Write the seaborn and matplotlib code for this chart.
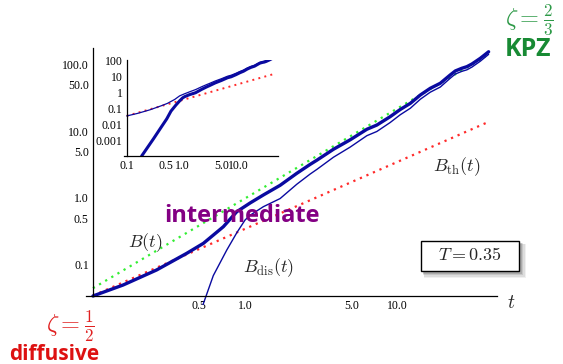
import numpy as np
import pandas as pd
import matplotlib
matplotlib.use('Agg')
import matplotlib.pyplot as plt
import seaborn as sns
from matplotlib.patches import Rectangle
from matplotlib.ticker import LogLocator, NullFormatter

# ---------------- data ----------------
t_B = [0.1, 0.158, 0.262, 0.413, 0.532, 0.72, 0.882, 1.079, 1.319, 1.699, 2.188, 2.677,
       2.964, 3.81, 4.91, 6.32, 7.35, 8.99, 10.47, 12.2, 14.2, 16.5, 19.2, 22.3, 24.1,
       26.6, 28.7, 31.0, 35.2, 39.9]
B_vals = [0.0336, 0.0492, 0.0827, 0.147, 0.208, 0.370, 0.622, 0.841, 1.11, 1.55, 2.35,
          3.2, 3.7, 5.4, 7.5, 10.8, 12.5, 16.7, 21.4, 26.5, 35.4, 44.6, 53.1, 70.7,
          81.3, 89.2, 94.3, 103.5, 126.0, 158.0]

t_dis = [0.185, 0.3, 0.42, 0.519, 0.618, 0.758, 0.882, 1.0, 1.079, 1.319, 1.699, 2.188,
         2.677, 2.964, 3.81, 4.91, 6.32, 7.35, 8.99, 10.47, 12.2, 14.2, 16.5, 19.2, 22.3,
         24.1, 26.6, 28.7, 31.0, 35.2, 39.9]
Bdis_vals = [0.0001, 0.0012, 0.0072, 0.022, 0.068, 0.165, 0.30, 0.467, 0.55, 0.74, 0.98,
             1.61, 2.29, 2.69, 4.1, 5.83, 8.65, 10.0, 13.64, 17.84, 22.35, 30.57,
             38.99, 46.57, 63.1, 73.1, 80.2, 84.5, 93.0, 114.0, 144.4]

t_th = [0.1, 40.0]
Bth_vals = [0.034, 14.0]

t_kpz = [0.1, 38.0]
Bkpz_vals = [0.044, 134.0]

main_xticks = [0.5, 1.0, 5.0, 10.0]
main_xlabels = ['0.5', '1.0', '5.0', '10.0']
main_yticks = [0.1, 0.5, 1.0, 5.0, 10.0, 50.0, 100.0]
main_ylabels = ['0.1', '0.5', '1.0', '5.0', '10.0', '50.0', '100.0']
ins_xticks = [0.1, 0.5, 1.0, 5.0, 10.0]
ins_xlabels = ['0.1', '0.5', '1.0', '5.0', '10.0']
ins_yticks = [0.001, 0.01, 0.1, 1.0, 10.0, 100.0]
ins_ylabels = ['0.001', '0.01', '0.1', '1', '10', '100']

# ---------------- style ----------------
sns.set_style('white')
plt.rcParams['font.family'] = ['Liberation Serif', 'DejaVu Serif']
plt.rcParams['mathtext.fontset'] = 'cm'

W, H = 563, 364
fig = plt.figure(figsize=(W / 100, H / 100), dpi=100)

def fx(px):
    return px / W

def fy(py):
    return 1 - py / H

BLUE = '#0a0aa0'
RED = '#ff2a2a'
GREEN = '#33ee33'
DOT = (0, (1, 2.2))

# ---------------- main axes ----------------
ax = fig.add_axes([fx(86), fy(305), (497 - 86) / W, (305 - 48) / H])
ax.set_xscale('log')
ax.set_yscale('log')
ax.set_xlim(0.09, 45.3)
ax.set_ylim(0.0246, 180)

sns.lineplot(x=t_kpz, y=Bkpz_vals, ax=ax, color=GREEN, lw=1.6, linestyle=DOT,
             sort=False, estimator=None)
sns.lineplot(x=t_th, y=Bth_vals, ax=ax, color=RED, lw=1.6, linestyle=DOT,
             sort=False, estimator=None)
sns.lineplot(x=t_dis, y=Bdis_vals, ax=ax, color=BLUE, lw=1.0,
             sort=False, estimator=None)
sns.lineplot(x=t_B, y=B_vals, ax=ax, color=BLUE, lw=2.4,
             sort=False, estimator=None)

for s in ['top', 'right']:
    ax.spines[s].set_visible(False)
ax.spines['bottom'].set_position(('data', 0.034))
ax.spines['left'].set_position(('data', 0.1))
ax.spines['left'].set_bounds(0.034, 180)
for s in ['bottom', 'left']:
    ax.spines[s].set_color('black')
    ax.spines[s].set_linewidth(0.9)

ax.set_xticks(main_xticks, main_xlabels)
ax.set_yticks(main_yticks, main_ylabels)
ax.xaxis.set_minor_locator(LogLocator(base=10, subs=np.arange(2, 10) * 1.0, numticks=20))
ax.yaxis.set_minor_locator(LogLocator(base=10, subs=np.arange(2, 10) * 1.0, numticks=20))
ax.xaxis.set_minor_formatter(NullFormatter())
ax.yaxis.set_minor_formatter(NullFormatter())
ax.tick_params(which='major', direction='in', length=4, width=0.8, labelsize=8.5, pad=3,
               colors='black')
ax.tick_params(which='minor', direction='in', length=2, width=0.6, colors='black')
ax.set_xlabel('')
ax.set_ylabel('')
ax.patch.set_alpha(0)

# ---------------- inset ----------------
ins = fig.add_axes([fx(124.3), fy(156), (278.3 - 124.3) / W, (156 - 60) / H])
ins.set_xscale('log')
ins.set_yscale('log')
ins.set_xlim(0.0906, 51)
ins.set_ylim(1e-4, 114)
sns.lineplot(x=t_th, y=Bth_vals, ax=ins, color=RED, lw=1.4, linestyle=DOT,
             sort=False, estimator=None)
sns.lineplot(x=t_B, y=B_vals, ax=ins, color=BLUE, lw=0.9,
             sort=False, estimator=None)
sns.lineplot(x=t_dis, y=Bdis_vals, ax=ins, color=BLUE, lw=2.2,
             sort=False, estimator=None)
for s in ['top', 'right']:
    ins.spines[s].set_visible(False)
ins.spines['left'].set_position(('data', 0.1))
for s in ['bottom', 'left']:
    ins.spines[s].set_color('black')
    ins.spines[s].set_linewidth(0.9)
ins.set_xticks(ins_xticks, ins_xlabels)
ins.set_yticks(ins_yticks, ins_ylabels)
ins.xaxis.set_minor_locator(LogLocator(base=10, subs=np.arange(2, 10) * 1.0, numticks=20))
ins.yaxis.set_minor_locator(LogLocator(base=10, subs=np.arange(2, 10) * 1.0, numticks=20))
ins.xaxis.set_minor_formatter(NullFormatter())
ins.yaxis.set_minor_formatter(NullFormatter())
ins.tick_params(which='major', direction='in', length=3, width=0.8, labelsize=8.5, pad=3,
                colors='black')
ins.tick_params(which='minor', direction='in', length=1.5, width=0.5, colors='black')
ins.set_xlabel('')
ins.set_ylabel('')
ins.patch.set_alpha(0)

# ---------------- annotations ----------------
fig.text(fx(511), fy(303), r'$t$', fontsize=14, ha='center', va='center')
fig.text(fx(145), fy(243), r'$B(t)$', fontsize=13, ha='center', va='center')
fig.text(fx(269), fy(268), r'$B_{\rm dis}(t)$', fontsize=13, ha='center', va='center')
fig.text(fx(457), fy(167), r'$B_{\rm th}(t)$', fontsize=13, ha='center', va='center')

fig.text(fx(242), fy(216), 'intermediate', fontsize=17, fontweight='bold',
         family=['Open Sans', 'DejaVu Sans'], color='#830083', ha='center', va='center')
fig.text(fx(528), fy(50), 'KPZ', fontsize=18, fontweight='bold',
         family=['Open Sans', 'DejaVu Sans'], color='#188a34', ha='center', va='center')
fig.text(fx(529), fy(20), r'$\zeta=\frac{2}{3}$', fontsize=17.5, color='#2e9a48',
         ha='center', va='center')
fig.text(fx(54), fy(354), 'diffusive', fontsize=15, fontweight='bold',
         family=['Open Sans', 'DejaVu Sans'], color='#dd1111', ha='center', va='center')
fig.text(fx(70), fy(326), r'$\zeta=\frac{1}{2}$', fontsize=17.5, color='#e02020',
         ha='center', va='center')

# boxed T label with soft shadow
bx0, by0, bx1, by1 = 421, 241, 519, 271
for i, a in enumerate([0.06, 0.08, 0.10, 0.14, 0.18]):
    off = 5 - i
    grow = 4 - i
    fig.add_artist(Rectangle((fx(bx0 + off - grow * 0.5), fy(by1 + off + grow * 0.5)),
                             (bx1 - bx0 + grow) / W, (by1 - by0 + grow) / H,
                             transform=fig.transFigure, facecolor='black', alpha=a,
                             edgecolor='none'))
fig.add_artist(Rectangle((fx(bx0), fy(by1)), (bx1 - bx0) / W, (by1 - by0) / H,
                         transform=fig.transFigure, facecolor='white', edgecolor='black',
                         lw=1.0))
fig.text(fx(470), fy(256), r'$T=0.35$', fontsize=13, ha='center', va='center')

fig.savefig('out.png', dpi=100)
